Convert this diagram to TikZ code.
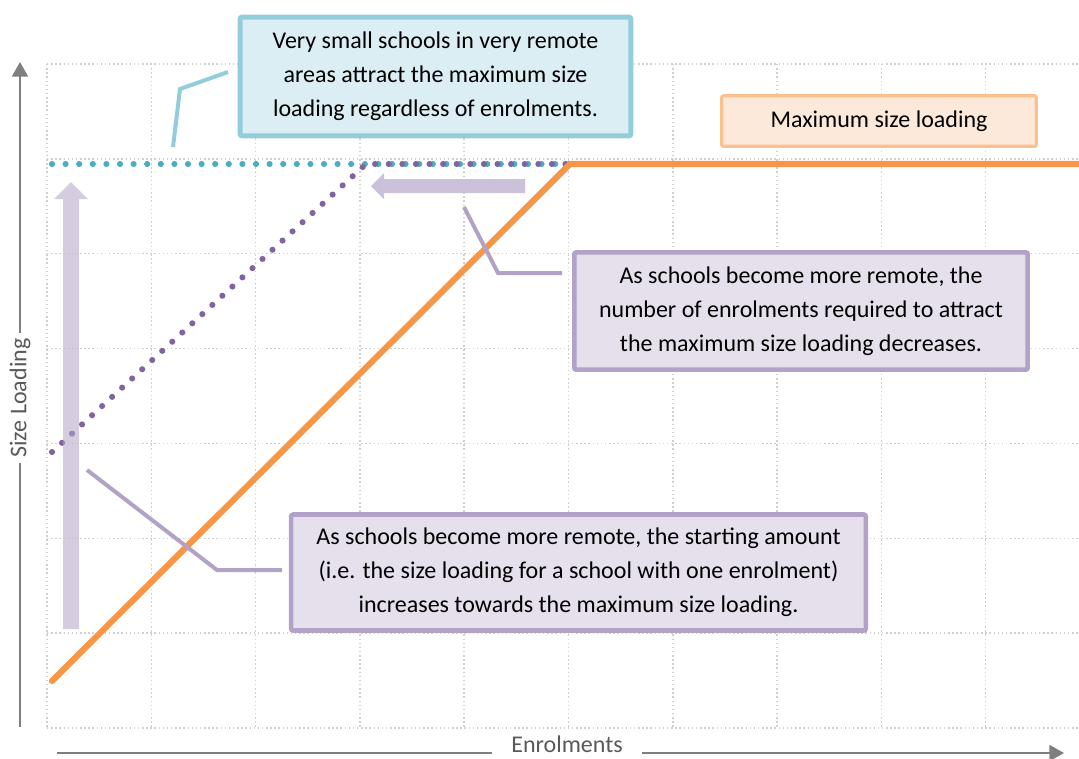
\documentclass[tikz,border=0pt]{standalone}
\usepackage{fontspec}
\setmainfont{Carlito}
\usetikzlibrary{arrows.meta}

\definecolor{gridgray}{HTML}{D0D0D0}
\definecolor{axisgray}{HTML}{7F7F7F}
\definecolor{labelgray}{HTML}{595959}
\definecolor{loadorange}{HTML}{F79646}
\definecolor{orangeedge}{HTML}{FAC090}
\definecolor{orangefill}{HTML}{FDE9D9}
\definecolor{tealdot}{HTML}{4BACC6}
\definecolor{tealedge}{HTML}{92CDDC}
\definecolor{tealfill}{HTML}{DAEEF3}
\definecolor{purpledot}{HTML}{8064A2}
\definecolor{purpleedge}{HTML}{B3A2C7}
\definecolor{purplefill}{HTML}{E5E0EC}
\definecolor{shiftarrow}{HTML}{CCC1DA}

\tikzset{
  gridline/.style={gridgray, line width=1.1pt, dotted},
  axisline/.style={axisgray, line width=1.5pt},
  axislabel/.style={text=labelgray, font=\fontsize{18}{22}\selectfont},
  dotline/.style={line width=4.6pt, line cap=round, dash pattern=on 0pt off 10.2pt},
  notebox/.style={rectangle, rounded corners=1.5pt, align=center,
    font=\fontsize{18}{25.5}\selectfont, inner sep=0pt},
  pointer/.style={line width=3pt}
}

\begin{document}
\begin{tikzpicture}[x=0.75pt,y=-0.75pt,
    >={Triangle[width=12pt,length=11pt]}]
  \useasboundingbox (0,0) rectangle (1079,758);

  % grid
  \foreach \k in {0,...,9}
    \draw[gridline] (47+104.3*\k,64) -- (47+104.3*\k,728);
  \foreach \k in {0,...,7}
    \draw[gridline] (47,64+94.86*\k) -- (1079,64+94.86*\k);

  % axes
  \coordinate (yfoot) at (20,727);
  \coordinate (ytip) at (20,62);
  \coordinate (xfoot) at (57,753);
  \coordinate (xtip) at (1064,753);
  \node (ylab) at (20,398) [axislabel, rotate=90, inner xsep=4pt, inner ysep=1pt] {Size Loading};
  \node (xlab) at (567,744) [axislabel, inner xsep=14pt, inner ysep=0pt] {Enrolments};
  \draw[axisline] (yfoot) -- (yfoot |- ylab.west);
  \draw[axisline, ->] (ytip |- ylab.east) -- (ytip);
  \draw[axisline] (xfoot) -- (xlab.west |- xfoot);
  \draw[axisline, ->] (xlab.east |- xfoot) -- (xtip);

  % size loading lines
  \coordinate (O0) at (52,681);
  \coordinate (O1) at (570,164);
  \coordinate (O2) at (1079,164);
  \coordinate (T0) at (52,164);
  \coordinate (P0) at (52,452);
  \coordinate (P1) at (366,164);

  \draw[dotline, tealdot] (T0) -- (O1);
  \draw[dotline, purpledot] (P0) -- (P1) -- (O1);
  \draw[loadorange, line width=4.6pt, line cap=round, line join=round]
    (O0) -- (O1) -- (O2);

  % block arrows
  \fill[purpleedge, opacity=0.55]
    (63,629) -- (79,629) -- (79,199) -- (88,199) -- (71,182)
    -- (54,199) -- (63,199) -- cycle;
  \fill[shiftarrow]
    (525,179) -- (525,193) -- (384,193) -- (384,199) -- (371,186)
    -- (384,173) -- (384,179) -- cycle;

  % notes
  \node (remote) at (435.5,76.5) [notebox, draw=tealedge, fill=tealfill,
    line width=3.8pt, minimum width=293pt, minimum height=89pt]
    {Very small schools in very remote\\areas attract the maximum size\\loading regardless of enrolments.};
  \node (maxload) at (879,121) [notebox, draw=orangeedge, fill=orangefill,
    line width=2.4pt, minimum width=236pt, minimum height=38pt]
    {Maximum size loading};
  \node (fewer) at (801,311) [notebox, draw=purpleedge, fill=purplefill,
    line width=3.4pt, minimum width=340pt, minimum height=88pt]
    {As schools become more remote, the\\number of enrolments required to attract\\the maximum size loading decreases.};
  \node (start) at (578.5,572.5) [notebox, draw=purpleedge, fill=purplefill,
    line width=3.4pt, minimum width=431pt, minimum height=87pt]
    {As schools become more remote, the starting amount\\(i.e. the size loading for a school with one enrolment)\\increases towards the maximum size loading.};

  % pointers
  \coordinate (Ta) at (173,147);
  \coordinate (Tb) at (180,89);
  \coordinate (Tc) at (228,72);
  \coordinate (Fa) at (464,207);
  \coordinate (Fb) at (498,273);
  \coordinate (Fc) at (562,273);
  \coordinate (Sa) at (87,470);
  \coordinate (Sb) at (217,570);
  \coordinate (Sc) at (282,570);
  \draw[pointer, tealedge] (Ta) -- (Tb) -- (Tc);
  \draw[pointer, purpleedge] (Fa) -- (Fb) -- (Fc);
  \draw[pointer, purpleedge] (Sa) -- (Sb) -- (Sc);
\end{tikzpicture}
\end{document}
